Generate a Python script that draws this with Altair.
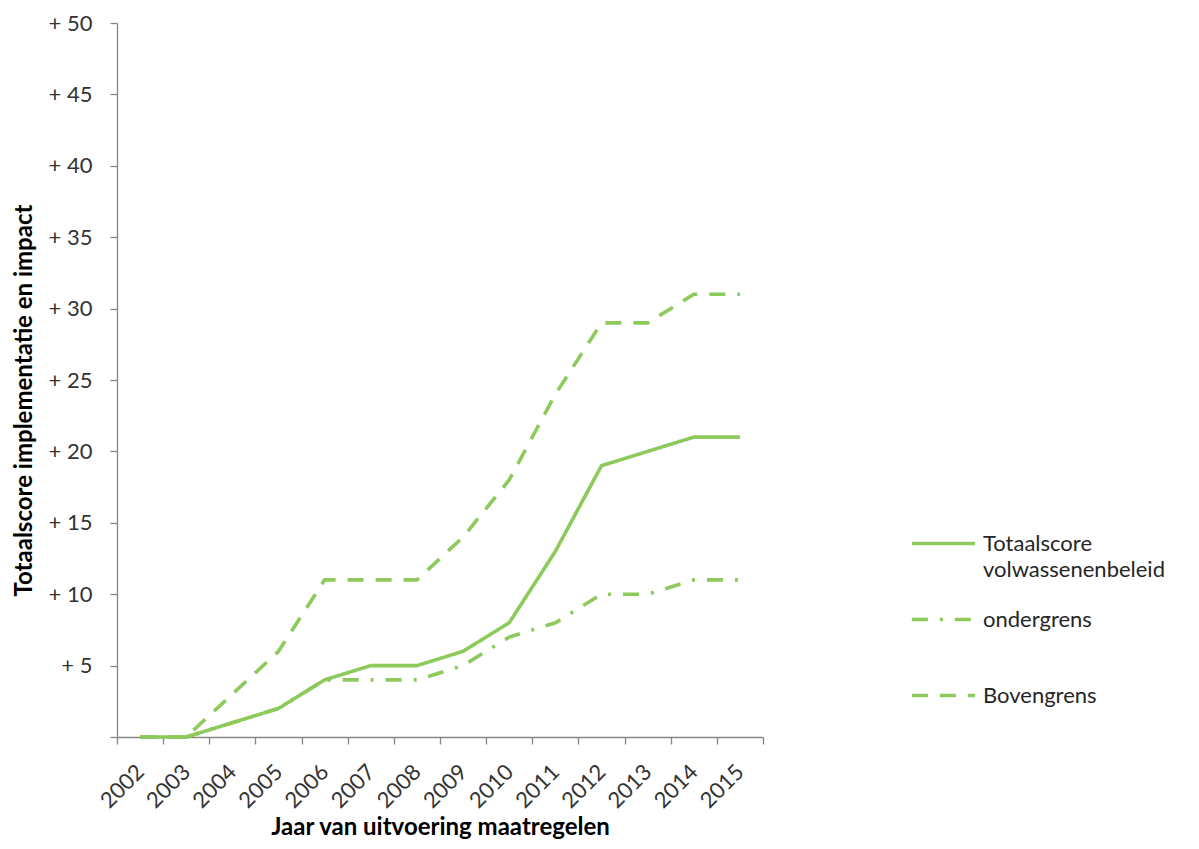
import altair as alt
import pandas as pd

years = ["2002", "2003", "2004", "2005", "2006", "2007", "2008",
         "2009", "2010", "2011", "2012", "2013", "2014", "2015"]
totaal = [0, 0, 1, 2, 4, 5, 5, 6, 8, 13, 19, 20, 21, 21]
onder = [0, 0, 1, 2, 4, 4, 4, 5, 7, 8, 10, 10, 11, 11]
boven = [0, 0, 3, 6, 11, 11, 11, 14, 18, 24, 29, 29, 31, 31]
series = ["Totaalscore volwassenenbeleid", "ondergrens", "Bovengrens"]
y_ticks = [0, 5, 10, 15, 20, 25, 30, 35, 40, 45, 50]

rows = []
for name, vals in zip(series, [totaal, onder, boven]):
    for yr, v in zip(years, vals):
        rows.append({"jaar": yr, "score": v, "reeks": name})
df = pd.DataFrame(rows)

GREEN = "#8DC95B"
FONT = "Lato"

chart = alt.Chart(df).mark_line(strokeWidth=3.6, color=GREEN, strokeJoin="miter").encode(
    x=alt.X("jaar:O", sort=years, bandPosition=0.5,
            scale=alt.Scale(type="band", paddingInner=0, paddingOuter=0),
            axis=alt.Axis(title="Jaar van uitvoering maatregelen", labelAngle=-45,
                          labelAlign="right", labelBaseline="middle",
                          tickBand="extent", tickSize=7, labelPadding=24,
                          labelFontSize=22,
                          titleY=90, titleBaseline="middle")),
    y=alt.Y("score:Q", scale=alt.Scale(domain=[0, 50], nice=False),
            axis=alt.Axis(title="Totaalscore implementatie en impact", values=y_ticks,
                          labelExpr="datum.value == 0 ? '' : '+ ' + datum.value",
                          grid=False, tickSize=7, labelPadding=18,
                          labelFontSize=22,
                          titleX=-93, titleY=377, titleBaseline="middle",
                          titleAngle=-90)),
    strokeDash=alt.StrokeDash("reeks:N",
        scale=alt.Scale(domain=series, range=[[1, 0], [16, 12, 3, 12], [16, 12]]),
        legend=alt.Legend(title=None, orient="none", legendX=793, legendY=487,
                          symbolType="stroke", symbolSize=4000, symbolStrokeWidth=3.6,
                          symbolStrokeColor=GREEN,
                          labelExpr="datum.label == 'Totaalscore volwassenenbeleid' ? ['Totaalscore', 'volwassenenbeleid'] : [datum.label, ' ']",
                          labelFontSize=22, labelColor="#262626", labelLimit=400,
                          labelOffset=6, rowPadding=5)),
    order=alt.Order("reeks:N"),
).properties(
    width=646, height=714,
    autosize=alt.AutoSizeParams(type="none"),
    padding={"left": 109, "top": 15, "right": 428, "bottom": 104},
).configure(
    style={"guide-label": {"lineHeight": 26}}
).configure_view(stroke=None).configure_axis(
    labelFont=FONT, titleFont=FONT, titleFontSize=24,
    labelColor="#333333", titleColor="#000000", titleFontWeight="bold",
    domainColor="#868686", tickColor="#868686", domainWidth=1.3, tickWidth=1.3,
).configure_legend(labelFont=FONT)

chart.save("out.html", embed_options={"renderer": "svg", "actions": False})
